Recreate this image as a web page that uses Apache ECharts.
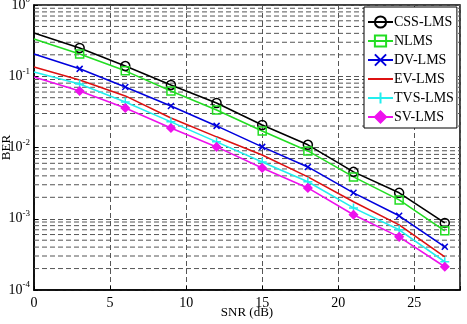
<!DOCTYPE html>
<html>
<head>
<meta charset="utf-8">
<script src="https://cdn.jsdelivr.net/npm/echarts@6/dist/echarts.min.js"></script>
<style>
  html, body { margin: 0; padding: 0; background: #fff; }
  #chart { width: 467px; height: 324px; }
</style>
</head>
<body>
<div id="chart"></div>
<script>
// SNR 采样点 (dB)
const snr = [0, 3, 6, 9, 12, 15, 18, 21, 24, 27];

// 各算法 BER
const cssLms = [0.405, 0.249, 0.139, 0.0755, 0.0422, 0.0207, 0.0109, 0.00455, 0.00231, 0.000875];
const nlms   = [0.334, 0.205, 0.119, 0.0622, 0.0337, 0.0171, 0.00896, 0.00387, 0.00184, 0.000676];
const dvLms  = [0.205, 0.127, 0.0708, 0.0383, 0.0201, 0.0102, 0.00534, 0.00231, 0.00110, 0.000404];
const evLms  = [0.135, 0.0887, 0.0530, 0.0260, 0.0141, 0.00787, 0.00387, 0.00173, 0.00082, 0.000292];
const tvsLms = [0.115, 0.078, 0.0436, 0.0229, 0.0120, 0.00628, 0.00330, 0.00142, 0.00070, 0.000249];
const svLms  = [0.0978, 0.0622, 0.0359, 0.0188, 0.0102, 0.00517, 0.00271, 0.00114, 0.000557, 0.000212];

// 坐标轴刻度
const xTicks = [0, 5, 10, 15, 20, 25];
const yDecades = [1e-4, 1e-3, 1e-2, 1e-1, 1];
const minorSteps = [2, 3, 4, 5, 6, 7, 8, 9];

const FONT = 'Liberation Serif';
const GRID_COLOR = '#555';
const DASH = [5, 3];

// 次网格线（对数坐标 2..9 位置）
const minorValues = [];
yDecades.slice(0, -1).forEach(d => {
  minorSteps.forEach(m => minorValues.push([m * d]));
});

const toData = vals => vals.map((v, i) =>
  i === 0 ? { value: [snr[i], v], symbol: 'none' } : [snr[i], v]
);

const mkSeries = (name, vals, color, symbol, size, filled) => ({
  name: name,
  type: 'line',
  data: toData(vals),
  symbol: symbol,
  symbolSize: size,
  showAllSymbol: true,
  lineStyle: { color: color, width: 1.6, type: 'solid' },
  itemStyle: {
    color: filled ? color : 'transparent',
    borderColor: color,
    borderWidth: 1.5
  },
  emphasis: { disabled: true },
  animation: false,
  z: 5
});

const series = [
  mkSeries('CSS-LMS', cssLms, '#000000', 'circle', 9, false),
  mkSeries('NLMS', nlms, '#22dd22', 'rect', 8, false),
  mkSeries('DV-LMS', dvLms, '#0000dd', 'path://M0,0L10,10M10,0L0,10', 6, false),
  mkSeries('EV-LMS', evLms, '#dd1111', 'none', 0, true),
  mkSeries('TVS-LMS', tvsLms, '#22eeee', 'path://M5,0L5,10M0,5L10,5', 9, false),
  mkSeries('SV-LMS', svLms, '#ee11ee', 'diamond', 8, true)
];

// 次网格线：用 custom 系列按坐标轴换算画横线
series.push({
  type: 'custom',
  name: 'minorGrid',
  silent: true,
  animation: false,
  z: 1,
  data: minorValues,
  renderItem: (params, api) => {
    const p = api.coord([0, api.value(0)]);
    const cs = params.coordSys;
    return {
      type: 'line',
      shape: { x1: cs.x, y1: p[1], x2: cs.x + cs.width, y2: p[1] },
      style: { stroke: GRID_COLOR, lineWidth: 1, lineDash: DASH }
    };
  },
  encode: { y: 0 }
});

// 图例条目（EV-LMS 只有线，不画标记）
const legendData = series.slice(0, 6).map(s =>
  s.name === 'EV-LMS'
    ? { name: s.name, itemStyle: { color: 'transparent', borderColor: 'transparent' } }
    : { name: s.name }
);

const chart = echarts.init(document.getElementById('chart'));
chart.setOption({
  backgroundColor: '#fff',
  textStyle: { fontFamily: FONT },
  grid: {
    left: 34, right: 7, top: 5, bottom: 34,
    outerBoundsMode: 'none',
    containLabel: false,
    show: true, borderColor: '#000', borderWidth: 1.5
  },
  legend: {
    orient: 'vertical',
    left: 364, top: 7,
    padding: [8, 3, 4, 3],
    itemWidth: 25,
    itemHeight: 14,
    itemGap: 5,
    backgroundColor: '#fff',
    borderColor: '#000',
    borderWidth: 1,
    textStyle: { fontFamily: FONT, fontSize: 14, color: '#000', padding: [0, 0, 0, -4] },
    data: legendData
  },
  xAxis: {
    type: 'value',
    min: 0, max: 28, interval: 5,
    name: 'SNR (dB)',
    nameLocation: 'middle',
    nameGap: 16,
    nameMoveOverlap: false,
    nameTextStyle: { fontFamily: FONT, fontSize: 13, color: '#000', verticalAlign: 'top' },
    axisLine: { show: true, onZero: false, lineStyle: { color: '#000', width: 1.5 } },
    axisTick: { inside: true, length: 4, lineStyle: { color: '#000' } },
    axisLabel: {
      fontFamily: FONT, fontSize: 14, color: '#000', margin: 6,
      customValues: xTicks
    },
    splitLine: { show: true, lineStyle: { color: GRID_COLOR, type: DASH, width: 1 } }
  },
  yAxis: {
    type: 'log',
    logBase: 10,
    min: 1e-4, max: 1,
    name: 'BER',
    nameLocation: 'middle',
    nameGap: 21,
    nameRotate: 90,
    nameMoveOverlap: false,
    nameTextStyle: { fontFamily: FONT, fontSize: 13, color: '#000' },
    axisLine: { show: true, lineStyle: { color: '#000', width: 1.5 } },
    axisTick: { inside: true, length: 4, lineStyle: { color: '#000' } },
    axisLabel: {
      color: '#000',
      margin: 4,
      formatter: v => '10{s|' + Math.round(Math.log10(v)) + '}',
      rich: {
        s: { fontFamily: FONT, fontSize: 9, color: '#000', verticalAlign: 'top', padding: [0, 0, 10, 0] }
      },
      fontFamily: FONT, fontSize: 14
    },
    splitLine: { show: true, lineStyle: { color: GRID_COLOR, type: DASH, width: 1 } }
  },
  series: series
});
</script>
</body>
</html>
